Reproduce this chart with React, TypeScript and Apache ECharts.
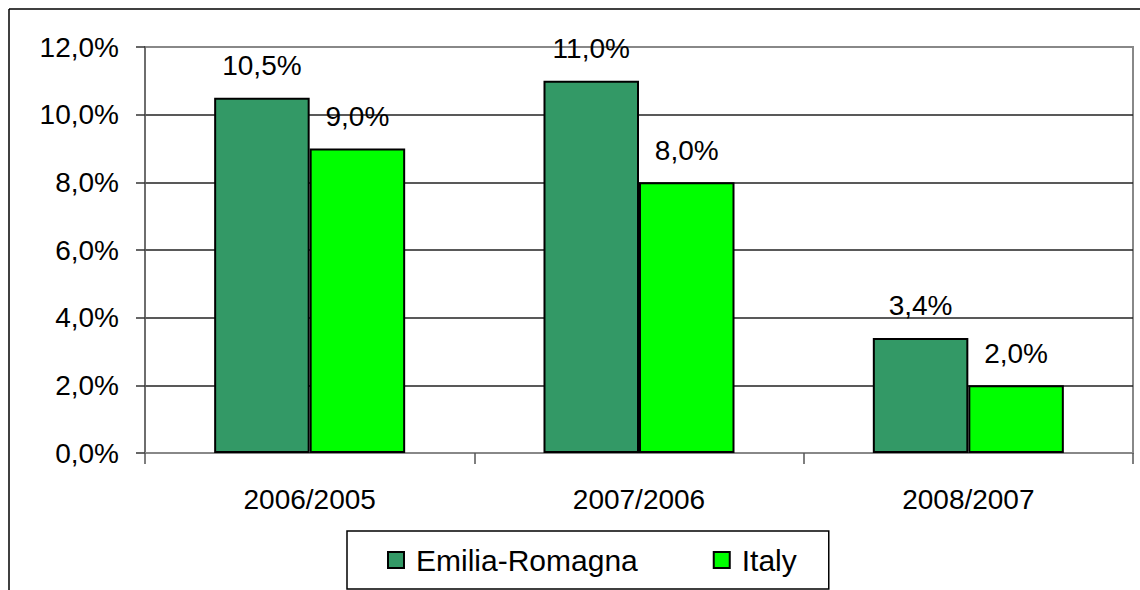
import React, { useEffect, useRef } from "react";
import * as echarts from "echarts";

const categories = ["2006/2005", "2007/2006", "2008/2007"];
const emiliaRomagna = [10.5, 11.0, 3.4];
const italy = [9.0, 8.0, 2.0];
const seriesNames = ["Emilia-Romagna", "Italy"];

const FONT = "'Liberation Sans', Arial, sans-serif";
const fmt = (v: number) => v.toFixed(1).replace(".", ",") + "%";

export default function App() {
  const ref = useRef<HTMLDivElement>(null);
  useEffect(() => {
    if (!ref.current) return;
    const chart = echarts.init(ref.current, undefined, { renderer: "svg" });
    const labelCfg = {
      show: true,
      position: "top",
      distance: 18,
      color: "#000",
      fontSize: 28,
      fontFamily: FONT,
      formatter: (p: any) => fmt(p.value),
    };
    chart.setOption({
      animation: false,
      backgroundColor: "#fff",
      textStyle: { fontFamily: FONT },
      grid: {
        left: 145,
        right: 7,
        top: 47,
        bottom: 137,
        show: true,
        borderColor: "#888",
        borderWidth: 2,
        backgroundColor: "transparent",
      },
      legend: {
        data: seriesNames,
        left: 347,
        top: 531,
        orient: "horizontal",
        borderColor: "#000",
        borderWidth: 1.5,
        padding: [14, 32, 14, 40],
        itemWidth: 16,
        itemHeight: 16,
        itemGap: 75,
        icon: "rect",
        textStyle: { fontSize: 30, color: "#000", fontFamily: FONT, padding: [0, 0, 0, 7] },
      },
      xAxis: {
        type: "category",
        data: categories,
        axisLine: { show: true, lineStyle: { color: "#888", width: 2 } },
        axisTick: { show: true, length: 11, lineStyle: { color: "#555", width: 1.5 } },
        axisLabel: { fontSize: 28, color: "#000", margin: 32, fontFamily: FONT },
        splitLine: { show: false },
      },
      yAxis: {
        type: "value",
        min: 0,
        max: 12,
        interval: 2,
        axisLine: { show: true, lineStyle: { color: "#666", width: 1.5 } },
        axisTick: { show: true, length: 9, lineStyle: { color: "#333", width: 1.5 } },
        axisLabel: { fontSize: 28, color: "#000", margin: 26, fontFamily: FONT, formatter: fmt },
        splitLine: {
          show: true,
          lineStyle: { color: ["#222", "#222", "#222", "#222", "#222", "#222", "#888"], width: 1.5 },
        },
      },
      graphic: [
        { type: "line", shape: { x1: 9, y1: 9, x2: 1140, y2: 9 }, style: { stroke: "#000", lineWidth: 1.5 } },
        { type: "line", shape: { x1: 9, y1: 9, x2: 9, y2: 590 }, style: { stroke: "#000", lineWidth: 1.5 } },
      ],
      series: [
        {
          name: seriesNames[0],
          type: "bar",
          data: emiliaRomagna,
          barGap: "0%",
          barCategoryGap: "42%",
          itemStyle: { color: "#339966", borderColor: "#000", borderWidth: 2 },
          label: labelCfg,
        },
        {
          name: seriesNames[1],
          type: "bar",
          data: italy,
          barGap: "0%",
          barCategoryGap: "42%",
          itemStyle: { color: "#00FF00", borderColor: "#000", borderWidth: 2 },
          label: labelCfg,
        },
      ],
    });
    return () => chart.dispose();
  }, []);
  return (
    <div
      ref={ref}
      style={{ position: "fixed", left: 0, top: 0, width: 1140, height: 590 }}
    />
  );
}
